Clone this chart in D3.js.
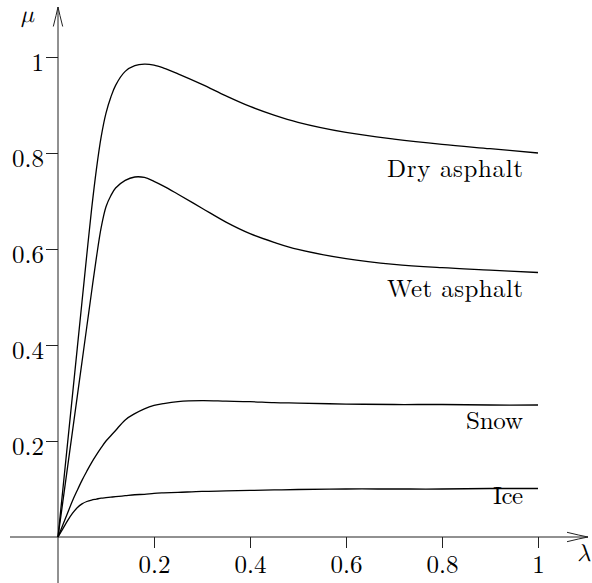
<!DOCTYPE html>
<html><head><meta charset="utf-8">
<script src="https://cdn.jsdelivr.net/npm/d3@7"></script>
<style>
html,body{margin:0;padding:0;background:#fff;}
svg{display:block;}
</style></head>
<body>
<svg id="chart" width="592" height="583"></svg>
<script>
// ---- data ----
const lambda = [0, .01, .02, .03, .04, .05, .06, .07, .08, .09, .1, .11, .12, .14, .16, .18, .2, .22, .25, .3, .35, .4, .45, .5, .6, .7, .8, .9, 1];
const dryMu  = [0, .098, .196, .294, .392, .490, .588, .683, .766, .834, .883, .916, .941, .970, .982, .985, .983, .977, .965, .943, .919, .897, .879, .864, .843, .829, .818, .809, .800];
const wetMu  = [0, .073, .146, .219, .292, .365, .438, .511, .582, .645, .688, .711, .727, .743, .750, .749, .741, .731, .714, .685, .656, .632, .614, .599, .580, .568, .561, .556, .551];
const snowMu = [0, .025, .050, .075, .097, .118, .137, .155, .171, .186, .200, .211, .222, .244, .257, .267, .274, .278, .282, .284, .283, .282, .280, .279, .277, .276, .276, .275, .275];
const iceMu  = [0, .017, .034, .049, .061, .069, .074, .077, .079, .081, .082, .083, .084, .086, .088, .089, .091, .092, .093, .095, .096, .097, .098, .099, .100, .100, .100, .101, .101];
const seriesNames = ["Dry asphalt", "Wet asphalt", "Snow", "Ice"];
const xTicks = [0.2, 0.4, 0.6, 0.8, 1];
const xTickLabels = ["0.2", "0.4", "0.6", "0.8", "1"];
const yTicks = [0.2, 0.4, 0.6, 0.8, 1];
const yTickLabels = ["0.2", "0.4", "0.6", "0.8", "1"];

// ---- layout ----
const FONT = '"Latin Modern Roman", "CMU Serif", "Liberation Serif", serif';
const GREEK = '"Latin Modern Math", "Liberation Serif", serif';
const svg = d3.select("#chart");
const x = d3.scaleLinear().domain([0, 1]).range([58, 538]);
const y = d3.scaleLinear().domain([0, 1]).range([537, 57]);
const axisColor = "#222";

const gy = svg.append("g").attr("transform", `translate(${x(0)},0)`)
  .call(d3.axisLeft(y).tickValues(yTicks).tickSize(12).tickPadding(2)
        .tickFormat((d, i) => yTickLabels[i]));
gy.select(".domain").remove();
gy.selectAll(".tick line").attr("stroke", axisColor).attr("stroke-width", 1);
gy.selectAll(".tick text").attr("dy", "13")
  .style("font-family", FONT).style("font-size", "25px").style("fill", "#000");

const gx = svg.append("g").attr("transform", `translate(0,${y(0)})`)
  .call(d3.axisBottom(x).tickValues(xTicks).tickSize(11)
        .tickFormat((d, i) => xTickLabels[i]));
gx.select(".domain").remove();
gx.selectAll(".tick line").attr("stroke", axisColor).attr("stroke-width", 1);
gx.selectAll(".tick text").attr("y", 36).attr("dy", "0")
  .style("font-family", FONT).style("font-size", "25px").style("fill", "#000");

// axis lines with arrows
const x0 = x(0), y0 = y(0);
svg.append("line").attr("x1", 10).attr("x2", 588).attr("y1", y0).attr("y2", y0)
  .attr("stroke", axisColor).attr("stroke-width", 1);
svg.append("line").attr("x1", x0).attr("x2", x0).attr("y1", 7).attr("y2", 583)
  .attr("stroke", axisColor).attr("stroke-width", 1);
svg.append("path")
  .attr("d", `M${x0-4.7},26.5 Q${x0-1.5},14 ${x0},7 Q${x0+1.5},14 ${x0+4.7},26.5`)
  .attr("fill", "none").attr("stroke", axisColor).attr("stroke-width", 1);
svg.append("path")
  .attr("d", `M567,${y0-4.7} Q580,${y0-1.5} 588,${y0} Q580,${y0+1.5} 567,${y0+4.7}`)
  .attr("fill", "none").attr("stroke", axisColor).attr("stroke-width", 1);

// axis labels
svg.append("text").attr("x", 21).attr("y", 22)
  .style("font-family", GREEK).style("font-size", "24px").style("font-style", "italic").text("μ");
svg.append("text").attr("x", 577).attr("y", 561)
  .style("font-family", GREEK).style("font-size", "24px").style("font-style", "italic").text("λ");

// curves
const series = [dryMu, wetMu, snowMu, iceMu];
const line = d3.line().x(d => x(d[0])).y(d => y(d[1])).curve(d3.curveCatmullRom.alpha(0.5));
series.forEach(vals => {
  svg.append("path").datum(lambda.map((l, i) => [l, vals[i]]))
    .attr("d", line).attr("fill", "none").attr("stroke", "#000").attr("stroke-width", 1.3);
});

// series labels (right-aligned)
const labelPos = [
  {yy: 177, w: 136}, {yy: 297, w: 136}, {yy: 428.5, w: 57}, {yy: 503.5, w: 30}
];
seriesNames.forEach((n, i) => {
  svg.append("text").attr("x", 523).attr("y", labelPos[i].yy)
    .attr("text-anchor", "end")
    .style("font-family", FONT).style("font-size", "25px")
    .attr("textLength", labelPos[i].w).attr("lengthAdjust", "spacing")
    .text(n);
});
</script>
</body></html>
